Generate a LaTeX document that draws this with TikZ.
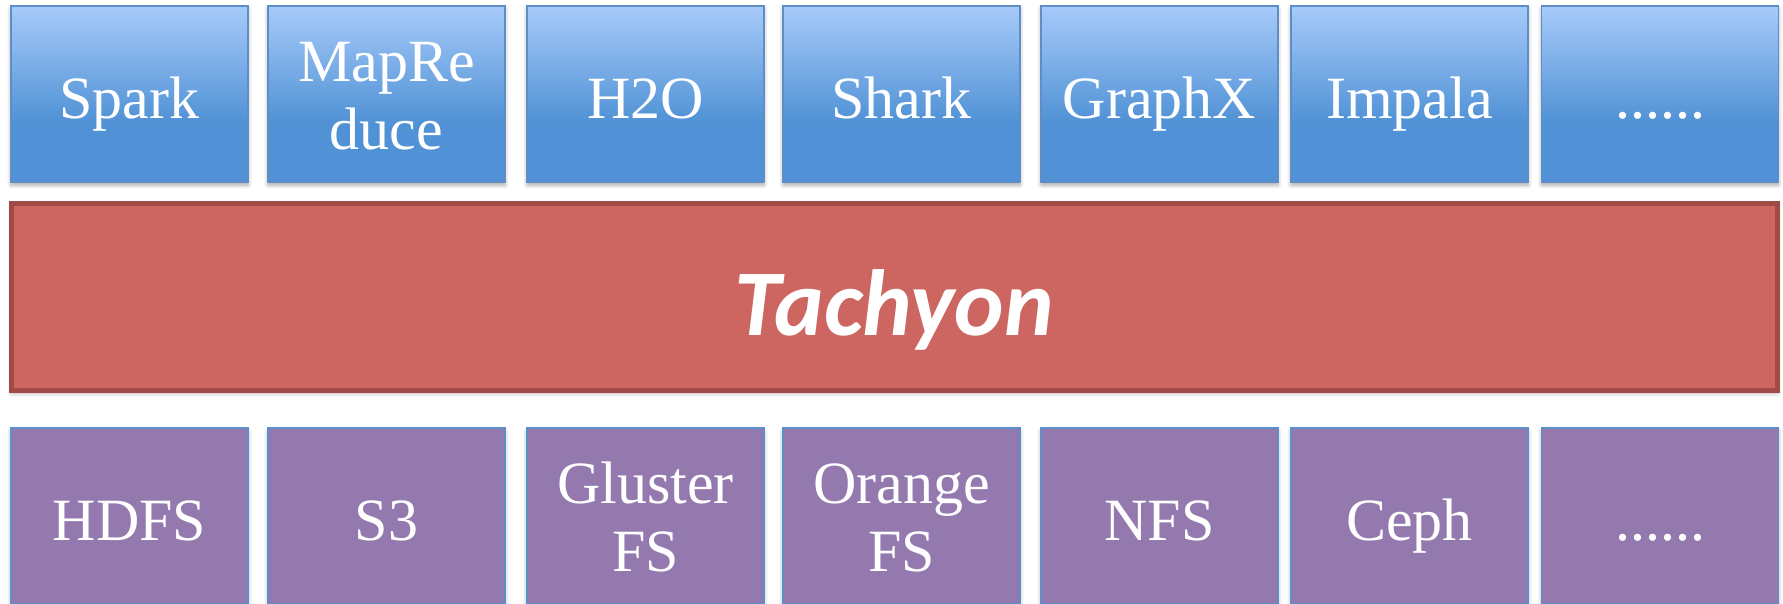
\documentclass[tikz,border=0pt]{standalone}
\usepackage{fontspec}
\setmainfont{Liberation Serif}
\newfontfamily\tachfont{Carlito}
\usetikzlibrary{shadows.blur}
\definecolor{topblue}{HTML}{A7CAFA}
\definecolor{botblue}{HTML}{5092D5}
\definecolor{blueedge}{HTML}{5F8DC6}
\definecolor{purplefill}{HTML}{9479AF}
\definecolor{purpleedge}{HTML}{5B8FCC}
\definecolor{redfill}{HTML}{CD6660}
\definecolor{rededge}{HTML}{A04B46}
\pgfdeclareverticalshading{bluegrad}{100bp}{color(0bp)=(botblue); color(42bp)=(botblue); color(75bp)=(topblue); color(100bp)=(topblue)}
\newcommand\twol[2]{\vtop{\baselineskip=68pt\halign{\hfil##\hfil\cr#1\cr#2\cr}}}
\tikzset{
  layerbox/.style={minimum width=237pt, minimum height=176pt, inner sep=0pt, outer sep=0pt,
    text=white, font=\fontsize{60}{68}\selectfont, text height=48pt, text depth=0pt,
    line width=1.5pt,
    blur shadow={shadow xshift=0pt, shadow yshift=-3pt, shadow blur radius=4pt, shadow opacity=35}},
  appbox/.style={layerbox, draw=blueedge, shade, shading=bluegrad},
  fsbox/.style={layerbox, draw=purpleedge, fill=purplefill},
  twoline/.style={text height=48pt, text depth=74pt},
  corebar/.style={minimum width=1766pt, minimum height=187pt, inner sep=0pt, outer sep=0pt,
    draw=rededge, fill=redfill, line width=5pt, text=white,
    font=\tachfont\bfseries\itshape\fontsize{94}{100}\selectfont, text height=76pt, text depth=0pt,
    blur shadow={shadow xshift=0pt, shadow yshift=-3pt, shadow blur radius=4pt, shadow opacity=30}}
}
\begin{document}
\begin{tikzpicture}[x=1pt, y=-1pt]
\useasboundingbox (0,0) rectangle (1783,603);
% top row
\node[appbox] (spark)  at (129.5,94) {Spark};
\node[appbox, twoline] (mapred) at (386.5,94) {\twol{MapRe}{duce}};
\node[appbox] (h2o)    at (645.5,94) {H2O};
\node[appbox] (shark)  at (901.5,94) {Shark};
\node[appbox] (graphx) at (1159.5,94) {GraphX};
\node[appbox] (impala) at (1409.5,94) {Impala};
\node[appbox] (topmore) at (1660,94) {......};
% middle bar
\node[corebar] (tachyon) at (894.5,297) {Tachyon};
% bottom row
\node[fsbox] (hdfs)    at (129.5,516) {HDFS};
\node[fsbox] (s3)      at (386.5,516) {S3};
\node[fsbox, twoline] (gluster) at (645.5,516) {\twol{Gluster}{FS}};
\node[fsbox, twoline] (orange)  at (901.5,516) {\twol{Orange}{FS}};
\node[fsbox] (nfs)     at (1159.5,516) {NFS};
\node[fsbox] (ceph)    at (1409.5,516) {Ceph};
\node[fsbox] (botmore) at (1660,516) {......};
\end{tikzpicture}
\end{document}
